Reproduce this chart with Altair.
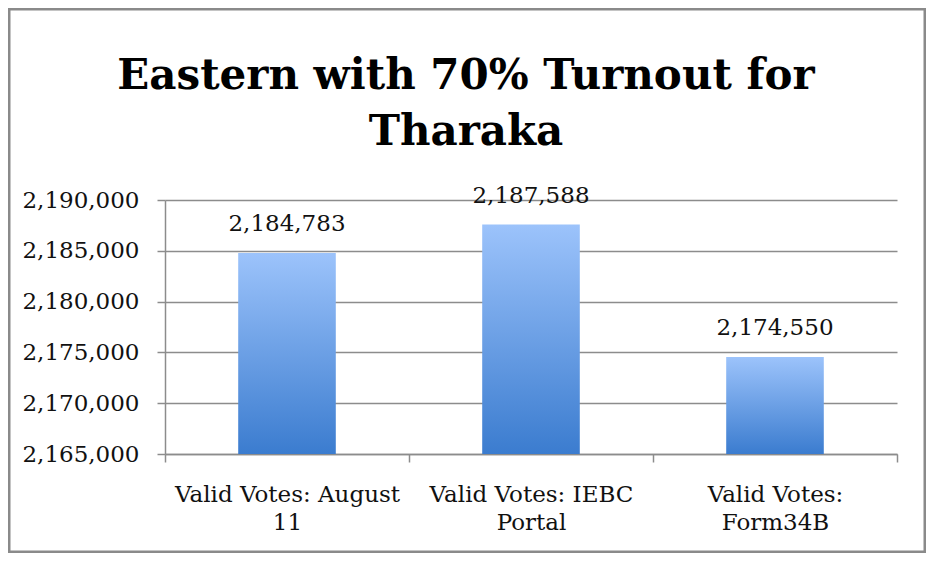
import altair as alt
import pandas as pd

categories = ["Valid Votes: August|11", "Valid Votes: IEBC|Portal", "Valid Votes:|Form34B"]
values = [2184783, 2187588, 2174550]
y_ticks = [2165000, 2170000, 2175000, 2180000, 2185000, 2190000]
title_lines = ["Eastern with 70% Turnout for", "Tharaka"]
y_min, y_max = 2165000, 2190000

df = pd.DataFrame({"cat": categories, "val": values})

FONT = "DejaVu Serif"
GRAY = "#8c8c8c"

x = alt.X(
    "cat:N", sort=categories, title=None,
    scale=alt.Scale(paddingInner=0, paddingOuter=0),
    axis=alt.Axis(labelExpr="split(datum.label, '|')", labelAngle=0, tickBand="extent",
                  grid=False, labelPadding=21, labelLineHeight=28, labelBaseline="top",
                  labelLimit=0),
)
y = alt.Y(
    "val:Q", title=None,
    scale=alt.Scale(domain=[y_min, y_max], zero=False, nice=False),
    axis=alt.Axis(values=y_ticks, labelExpr="format(datum.value, ',')", grid=True, labelPadding=18),
)

grad = alt.Gradient(
    gradient="linear",
    stops=[alt.GradientStop(color="#9cc3fb", offset=0), alt.GradientStop(color="#3b7ccf", offset=1)],
    x1=0, x2=0, y1=0, y2=1,
)

bars = alt.Chart(df).mark_bar(color=grad, width=alt.RelativeBandSize(0.4)).encode(
    x=x, y=y, y2=alt.datum(y_min)
)
labels = alt.Chart(df).mark_text(dy=-22, baseline="alphabetic", fontSize=23, font=FONT, color="#111").encode(
    x=x, y=y, text=alt.Text("val:Q", format=",")
)
border = alt.Chart(alt.Data(values=[{"a": 1}])).mark_rect(
    fillOpacity=0, stroke="#8a8a8a", strokeWidth=3
).encode(x=alt.value(-156), x2=alt.value(760), y=alt.value(-191), y2=alt.value(352))

chart = alt.layer(bars, labels, border).properties(
    width=732, height=254,
    autosize=alt.AutoSizeParams(type="none"),
    padding={"left": 157, "top": 192, "right": 29, "bottom": 99},
    title=alt.TitleParams(text=title_lines, font=FONT, fontSize=42, fontWeight="bold", color="#000",
                          anchor="middle", dx=-65, offset=0, dy=146, lineHeight=56),
).configure_view(stroke=None).configure_axis(
    labelFont=FONT, labelFontSize=23, labelColor="#111",
    domainColor=GRAY, domainWidth=1.5, tickColor=GRAY, tickWidth=1.5, tickSize=8,
    gridColor=GRAY, gridWidth=1.5,
)

chart.save("out.html", embed_options={"renderer": "svg", "actions": False})
